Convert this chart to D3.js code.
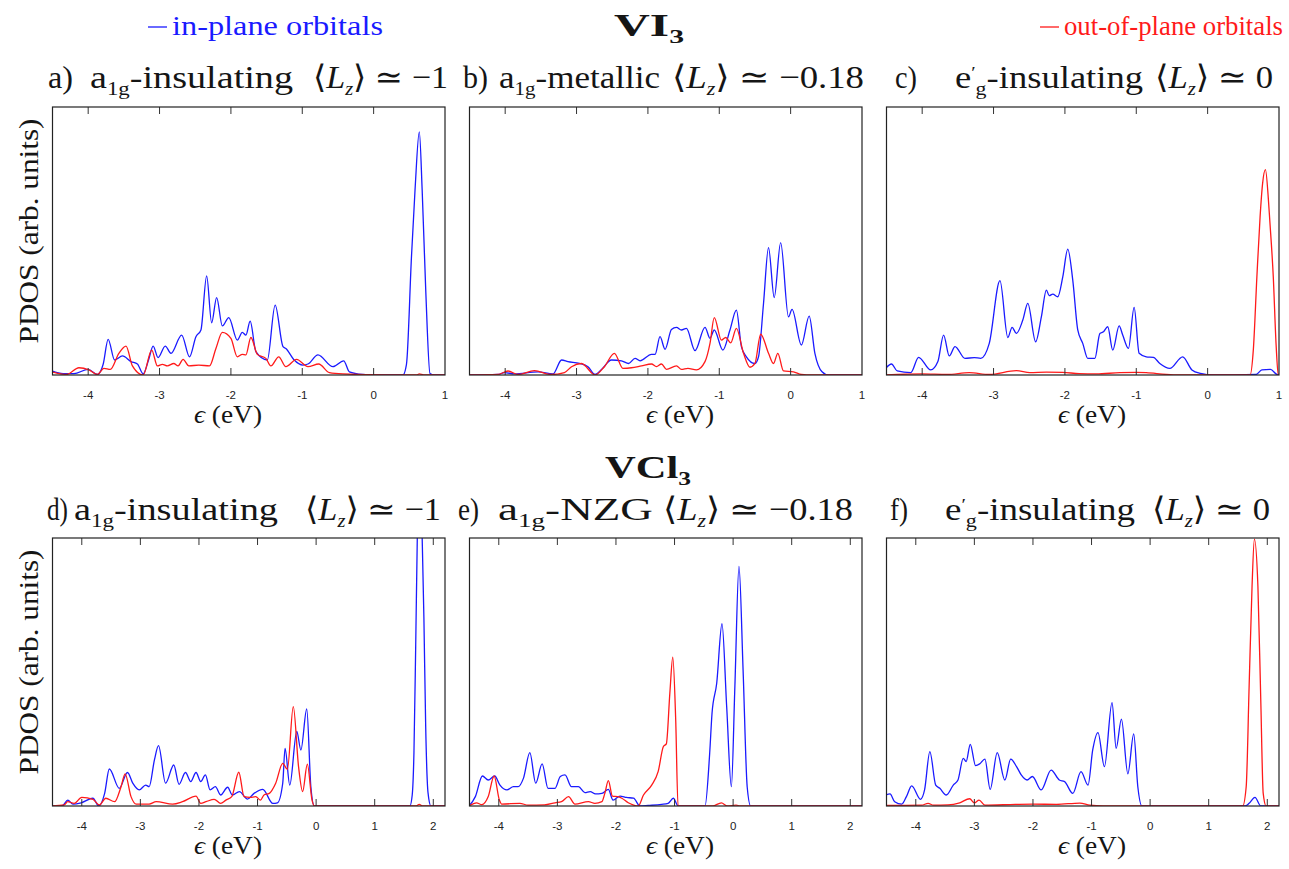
<!DOCTYPE html>
<html><head><meta charset="utf-8">
<script src="https://cdn.jsdelivr.net/npm/d3@7"></script>
<style>body{margin:0;background:#fff}svg{display:block}</style>
</head><body>
<svg id="chart" width="1289" height="869"></svg>
<script>
// Projected density of states, [energy (eV), PDOS (arb. units)]
const aInPlane = [[-4.51,0.015],[-4.35,0.005],[-4.2,0.005],[-4.0,0.021],[-3.87,0.002],[-3.79,0.04],[-3.72,0.133],[-3.63,0.056],[-3.52,0.071],[-3.40,0.05],[-3.31,0.041],[-3.23,0.004],[-3.15,0.06],[-3.09,0.108],[-3.02,0.065],[-2.92,0.108],[-2.84,0.081],[-2.69,0.149],[-2.58,0.068],[-2.49,0.143],[-2.42,0.168],[-2.34,0.370],[-2.27,0.195],[-2.20,0.289],[-2.12,0.183],[-2.03,0.214],[-1.91,0.130],[-1.84,0.159],[-1.79,0.149],[-1.73,0.201],[-1.65,0.087],[-1.49,0.056],[-1.38,0.261],[-1.27,0.106],[-1.23,0.099],[-1.12,0.058],[-0.99,0.037],[-0.92,0.041],[-0.78,0.075],[-0.57,0.031],[-0.42,0.053],[-0.34,0.012],[-0.15,0.002],[0.0,0.0],[0.41,0.0],[0.46,0.04],[0.53,0.44],[0.58,0.69],[0.64,0.907],[0.68,0.69],[0.73,0.317],[0.79,0.005],[0.85,0],[1.0,0]];
const aOutPlane = [[-4.51,0.012],[-4.3,0.002],[-4.13,0.027],[-3.99,0.019],[-3.87,0.002],[-3.78,0.025],[-3.69,0.021],[-3.57,0.081],[-3.47,0.108],[-3.38,0.034],[-3.23,0.0],[-3.11,0.093],[-3.03,0.034],[-2.96,0.040],[-2.89,0.034],[-2.80,0.043],[-2.74,0.034],[-2.67,0.058],[-2.59,0.034],[-2.45,0.037],[-2.30,0.034],[-2.21,0.099],[-2.12,0.159],[-2.00,0.137],[-1.91,0.068],[-1.84,0.077],[-1.79,0.075],[-1.72,0.140],[-1.63,0.077],[-1.51,0.062],[-1.44,0.034],[-1.33,0.068],[-1.23,0.031],[-1.08,0.058],[-0.92,0.031],[-0.77,0.041],[-0.62,0.009],[-0.43,0.004],[0.2,0],[0.6,0],[0.64,0.004],[0.7,0],[1.0,0]];

const bInPlane = [[-4.51,0],[-4.1,0.002],[-4.01,0.009],[-3.87,0.004],[-3.54,0.012],[-3.33,0.004],[-3.21,0.056],[-3.12,0.050],[-2.96,0.043],[-2.84,0.031],[-2.74,0.002],[-2.65,0.021],[-2.51,0.056],[-2.37,0.053],[-2.27,0.043],[-2.18,0.062],[-2.11,0.053],[-1.95,0.077],[-1.90,0.077],[-1.83,0.143],[-1.76,0.096],[-1.67,0.170],[-1.60,0.178],[-1.53,0.168],[-1.46,0.174],[-1.34,0.091],[-1.20,0.178],[-1.13,0.137],[-1.07,0.168],[-0.95,0.093],[-0.85,0.168],[-0.76,0.242],[-0.69,0.106],[-0.62,0.068],[-0.50,0.043],[-0.45,0.068],[-0.38,0.267],[-0.31,0.475],[-0.23,0.289],[-0.14,0.494],[-0.03,0.217],[0.02,0.245],[0.15,0.112],[0.26,0.220],[0.34,0.081],[0.44,0.012],[0.53,0],[1.0,0]];
const bOutPlane = [[-4.51,0],[-4.1,0.002],[-3.96,0.015],[-3.82,0.002],[-3.59,0.016],[-3.36,0.002],[-3.17,0.009],[-3.07,0.031],[-2.93,0.043],[-2.74,0],[-2.61,0.031],[-2.47,0.081],[-2.35,0.025],[-2.23,0.027],[-2.09,0.034],[-1.95,0.041],[-1.88,0.031],[-1.81,0.041],[-1.74,0.021],[-1.60,0.034],[-1.53,0.021],[-1.44,0.025],[-1.32,0.019],[-1.20,0.050],[-1.13,0.118],[-1.07,0.214],[-0.97,0.130],[-0.91,0.140],[-0.84,0.120],[-0.76,0.174],[-0.66,0.081],[-0.57,0.029],[-0.50,0.043],[-0.42,0.152],[-0.31,0.081],[-0.24,0.043],[-0.18,0.081],[-0.10,0.015],[0.04,0.012],[0.15,0.002],[0.3,0],[1.0,0]];

const cInPlane = [[-4.51,0.025],[-4.43,0.041],[-4.35,0.015],[-4.16,0.009],[-4.05,0.066],[-3.88,0.019],[-3.78,0.050],[-3.70,0.149],[-3.62,0.071],[-3.54,0.106],[-3.40,0.062],[-3.27,0.065],[-3.18,0.062],[-3.06,0.118],[-2.91,0.352],[-2.80,0.140],[-2.74,0.178],[-2.68,0.155],[-2.59,0.205],[-2.52,0.267],[-2.41,0.124],[-2.33,0.217],[-2.26,0.317],[-2.22,0.296],[-2.17,0.302],[-2.10,0.292],[-2.03,0.366],[-1.96,0.470],[-1.89,0.354],[-1.82,0.168],[-1.75,0.118],[-1.68,0.062],[-1.58,0.062],[-1.51,0.155],[-1.46,0.161],[-1.40,0.180],[-1.33,0.093],[-1.24,0.183],[-1.19,0.149],[-1.11,0.099],[-1.03,0.252],[-0.96,0.081],[-0.86,0.068],[-0.76,0.066],[-0.67,0.043],[-0.53,0.025],[-0.35,0.068],[-0.22,0.019],[-0.10,0.006],[0.08,0],[0.68,0.002],[0.76,0.019],[0.88,0.021],[0.97,0.002],[1.0,0]];
const cOutPlane = [[-4.51,0],[-4.0,0.004],[-3.65,0.002],[-3.34,0.009],[-3.06,0.002],[-2.68,0.016],[-2.49,0.009],[-2.26,0.011],[-2.03,0.010],[-1.80,0.005],[-1.56,0.004],[-1.23,0.009],[-1.00,0.010],[-0.86,0.009],[-0.58,0.002],[-0.4,0],[0.595,0],[0.64,0.093],[0.69,0.366],[0.735,0.59],[0.77,0.714],[0.81,0.766],[0.85,0.66],[0.87,0.58],[0.92,0.366],[0.96,0.11],[0.99,0],[1.0,0]];

const dInPlane = [[-4.51,0],[-4.33,0.001],[-4.24,0.022],[-4.15,0.007],[-4.01,0.012],[-3.81,0.029],[-3.71,0],[-3.61,0.047],[-3.53,0.138],[-3.36,0.066],[-3.22,0.125],[-3.13,0.085],[-3.02,0.060],[-2.91,0.078],[-2.85,0.072],[-2.76,0.172],[-2.69,0.225],[-2.57,0.085],[-2.43,0.153],[-2.34,0.081],[-2.23,0.125],[-2.14,0.091],[-2.05,0.125],[-1.97,0.091],[-1.89,0.116],[-1.81,0.060],[-1.72,0.072],[-1.63,0.041],[-1.51,0.070],[-1.43,0.041],[-1.31,0.054],[-1.17,0.026],[-1.06,0.047],[-0.91,0.062],[-0.74,0.010],[-0.66,0.012],[-0.57,0.085],[-0.53,0.215],[-0.45,0.078],[-0.33,0.278],[-0.26,0.209],[-0.16,0.362],[-0.09,0.072],[-0.03,0],[1.60,0],[1.64,0.04],[1.67,0.2],[1.70,0.6],[1.727,1.0],[1.77,1.4],[1.80,1.1],[1.84,0.7],[1.87,0.3],[1.91,0.05],[1.96,0],[2.2,0]];
const dOutPlane = [[-4.51,0],[-4.3,0.004],[-4.24,0.016],[-4.13,0.010],[-4.00,0.032],[-3.81,0.025],[-3.70,0.004],[-3.59,0.029],[-3.44,0.016],[-3.33,0.072],[-3.26,0.120],[-3.16,0.035],[-3.07,0.007],[-2.85,0.007],[-2.73,0.016],[-2.45,0.007],[-2.28,0.016],[-2.05,0.037],[-1.97,0.010],[-1.88,0.016],[-1.74,0.025],[-1.63,0.010],[-1.54,0.022],[-1.44,0.035],[-1.32,0.126],[-1.23,0.035],[-1.13,0.032],[-1.03,0.035],[-0.95,0.022],[-0.89,0.041],[-0.80,0.047],[-0.69,0.085],[-0.57,0.159],[-0.49,0.137],[-0.39,0.371],[-0.30,0.147],[-0.23,0.054],[-0.15,0.156],[-0.07,0.022],[-0.03,0],[1.70,0],[1.76,0.006],[1.82,0],[2.2,0]];

const eInPlane = [[-4.51,0],[-4.40,0.035],[-4.28,0.112],[-4.18,0.097],[-4.07,0.112],[-3.98,0.078],[-3.86,0.060],[-3.75,0.072],[-3.67,0.072],[-3.58,0.103],[-3.47,0.199],[-3.37,0.085],[-3.26,0.157],[-3.16,0.066],[-3.04,0.066],[-2.95,0.110],[-2.87,0.116],[-2.76,0.072],[-2.64,0.072],[-2.53,0.050],[-2.44,0.054],[-2.35,0.045],[-2.24,0.047],[-2.13,0.062],[-2.05,0.022],[-1.93,0.037],[-1.82,0.032],[-1.70,0.029],[-1.59,0],[-1.45,0.002],[-1.22,0.006],[-1.11,0.010],[-1.02,0.029],[-0.94,0],[-0.48,0],[-0.40,0.197],[-0.36,0.346],[-0.28,0.458],[-0.19,0.680],[-0.11,0.371],[-0.03,0.072],[0.03,0.446],[0.10,0.894],[0.17,0.508],[0.24,0.072],[0.30,0],[2.2,0]];
const eOutPlane = [[-4.51,0],[-4.38,0.012],[-4.29,0.005],[-4.18,0.035],[-4.08,0.112],[-3.99,0.022],[-3.95,0.007],[-3.64,0.010],[-3.50,0.003],[-3.22,0.004],[-3.04,0.012],[-2.93,0.016],[-2.81,0.035],[-2.70,0.007],[-2.47,0.016],[-2.36,0.010],[-2.24,0.016],[-2.19,0.047],[-2.13,0.095],[-2.06,0.037],[-1.97,0.035],[-1.90,0.029],[-1.79,0.012],[-1.62,0],[-1.53,0.041],[-1.39,0.078],[-1.28,0.128],[-1.19,0.222],[-1.14,0.232],[-1.08,0.421],[-1.03,0.555],[-0.98,0.321],[-0.94,0],[-0.35,0],[-0.20,0.012],[-0.10,0],[0.05,0.003],[0.12,0],[2.2,0]];

const fInPlane = [[-4.51,0.041],[-4.44,0.045],[-4.36,0.016],[-4.24,0.007],[-4.16,0.035],[-4.07,0.075],[-3.92,0.025],[-3.85,0.060],[-3.76,0.203],[-3.66,0.078],[-3.59,0.066],[-3.48,0.041],[-3.36,0.078],[-3.28,0.097],[-3.19,0.178],[-3.14,0.166],[-3.07,0.230],[-2.98,0.151],[-2.91,0.157],[-2.82,0.175],[-2.73,0.062],[-2.61,0.199],[-2.48,0.097],[-2.38,0.175],[-2.28,0.147],[-2.20,0.116],[-2.10,0.097],[-2.01,0.110],[-1.86,0.060],[-1.69,0.134],[-1.55,0.097],[-1.46,0.091],[-1.32,0.047],[-1.18,0.128],[-1.06,0.078],[-0.98,0.209],[-0.89,0.274],[-0.78,0.147],[-0.65,0.386],[-0.58,0.215],[-0.49,0.324],[-0.38,0.120],[-0.28,0.269],[-0.21,0.072],[-0.14,0],[1.62,0],[1.69,0.010],[1.79,0.032],[1.89,0],[2.2,0]];
const fOutPlane = [[-4.51,0.002],[-3.9,0.003],[-3.79,0.010],[-3.70,0.003],[-3.45,0.004],[-3.25,0.012],[-3.08,0.027],[-3.00,0.012],[-2.92,0.022],[-2.82,0.003],[-2.3,0.006],[-2.0,0.007],[-1.6,0.006],[-1.20,0.011],[-1.03,0.003],[-0.8,0],[1.58,0],[1.64,0.072],[1.69,0.446],[1.74,0.82],[1.78,0.996],[1.84,0.82],[1.89,0.384],[1.93,0.048],[1.98,0],[2.2,0]];

// Axis ticks per row
const vi3Ticks = [-4, -3, -2, -1, 0, 1];
const vi3TickLabels = ["-4", "-3", "-2", "-1", "0", "1"];
const vcl3Ticks = [-4, -3, -2, -1, 0, 1, 2];
const vcl3TickLabels = ["-4", "-3", "-2", "-1", "0", "1", "2"];
const vi3Domain = [-4.5, 1];
const vcl3Domain = [-4.5, 2.2];

const BLUE = "#1a1aff", RED = "#ff1a1a";
const SERIF = "'Liberation Serif','DejaVu Serif',serif";
const SANS = "'Liberation Sans',Arial,sans-serif";

const svg = d3.select("#chart");

// rich text helper: parts with optional sub/sup/italic; width stretches glyphs
function rich(x, y, size, parts, opt) {
  opt = opt || {};
  const t = svg.append("text").attr("x", x).attr("y", y).attr("font-family", SERIF)
    .attr("font-size", size).attr("fill", opt.fill || "#151515")
    .attr("text-anchor", opt.anchor || "start");
  if (opt.transform) t.attr("transform", opt.transform);
  let cur = 0;
  parts.forEach(p => {
    const target = p.sub ? size * 0.22 : p.sup ? -size * 0.3 : 0;
    const ts = t.append("tspan").attr("dy", target - cur).text(p.t);
    cur = target;
    if (p.sub || p.sup) ts.attr("font-size", size * (p.small || 0.6));
    if (p.it) ts.attr("font-style", "italic");
    if (p.bold) ts.attr("font-weight", "bold");
    if (p.dx) ts.attr("dx", p.dx);
  });
  if (opt.width) t.attr("textLength", opt.width).attr("lengthAdjust", "spacingAndGlyphs");
  return t;
}

// panel frames
const colX = [52.5, 469.5, 886.5];
const rowY = [107, 538];
const PW = 392.5, PH = 268;

const panels = [
  {key:"a", row:0, col:0, inP:aInPlane, outP:aOutPlane},
  {key:"b", row:0, col:1, inP:bInPlane, outP:bOutPlane},
  {key:"c", row:0, col:2, inP:cInPlane, outP:cOutPlane},
  {key:"d", row:1, col:0, inP:dInPlane, outP:dOutPlane},
  {key:"e", row:1, col:1, inP:eInPlane, outP:eOutPlane},
  {key:"f", row:1, col:2, inP:fInPlane, outP:fOutPlane}
];
const xLabelCenters = [228, 680, 1092];

panels.forEach(p => {
  const x0 = colX[p.col], y0 = rowY[p.row];
  const domain = p.row === 0 ? vi3Domain : vcl3Domain;
  const ticks = p.row === 0 ? vi3Ticks : vcl3Ticks;
  const labels = p.row === 0 ? vi3TickLabels : vcl3TickLabels;
  const x = d3.scaleLinear().domain(domain).range([x0, x0 + PW]);
  const y = d3.scaleLinear().domain([0, 1]).range([y0 + PH, y0]);
  const g = svg.append("g");

  g.append("clipPath").attr("id", "clip-" + p.key)
    .append("rect").attr("x", x0).attr("y", y0).attr("width", PW).attr("height", PH);

  const line = d3.line().x(d => x(d[0])).y(d => y(d[1])).curve(d3.curveMonotoneX);
  const plot = g.append("g").attr("clip-path", `url(#clip-${p.key})`);
  plot.append("path").datum(p.inP).attr("d", line)
    .attr("fill", "none").attr("stroke", BLUE).attr("stroke-width", 1.3);
  plot.append("path").datum(p.outP).attr("d", line)
    .attr("fill", "none").attr("stroke", RED).attr("stroke-width", 1.3);

  // inward ticks on top and bottom edges
  ticks.forEach((t, i) => {
    const tx = x(t);
    if (tx > x0 + 1 && tx < x0 + PW - 1) {
      g.append("line").attr("x1", tx).attr("x2", tx).attr("y1", y0).attr("y2", y0 + 7)
        .attr("stroke", "#333").attr("stroke-width", 1);
      g.append("line").attr("x1", tx).attr("x2", tx).attr("y1", y0 + PH).attr("y2", y0 + PH - 7)
        .attr("stroke", "#333").attr("stroke-width", 1);
    }
    g.append("text").attr("x", tx).attr("y", y0 + PH + 24)
      .attr("text-anchor", "middle").attr("font-family", SANS).attr("font-size", 11.5)
      .attr("fill", "#222").text(labels[i]);
  });

  g.append("rect").attr("x", x0).attr("y", y0).attr("width", PW).attr("height", PH)
    .attr("fill", "none").attr("stroke", "#222").attr("stroke-width", 1.2);

  // energy axis label
  rich(xLabelCenters[p.col] - 34, y0 + PH + 48, 26, [{t:"ϵ", it:true}, {t:" (eV)"}], {width: 68});
});

// y-axis labels
[rowY[0], rowY[1]].forEach(y0 => {
  rich(0, 0, 27, [{t:"PDOS (arb. units)"}],
    {anchor: "middle", width: 225, transform: `translate(38,${y0 + PH / 2 - 10}) rotate(-90)`});
});

// compound headings
rich(614, 36, 31, [{t:"VI", bold:true}, {t:"3", sub:true, bold:true, small:0.6}], {width: 70});
rich(605, 478, 31, [{t:"VCl", bold:true}, {t:"3", sub:true, bold:true, small:0.6}], {width: 86});

// legend
svg.append("line").attr("x1", 148).attr("x2", 167).attr("y1", 27).attr("y2", 27).attr("stroke", BLUE).attr("stroke-width", 1.3);
rich(172, 35, 27, [{t:"in-plane orbitals"}], {fill: BLUE, width: 211});
svg.append("line").attr("x1", 1040).attr("x2", 1059).attr("y1", 27).attr("y2", 27).attr("stroke", RED).attr("stroke-width", 1.3);
rich(1064, 35, 27, [{t:"out-of-plane orbitals"}], {fill: RED, width: 219});

// panel headings
const Lz = v => [{t:"⟨"}, {t:"L", it:true}, {t:"z", it:true, sub:true}, {t:"⟩ ≃ " + v}];
const eg = [{t:"e"}, {t:"′", sup:true, small:0.55}, {t:"g", sub:true}, {t:"-insulating"}];
const TS = 32;
const headRow = [88, 520];
const headings = [
  // [row, label, x, width, orbital parts, x, width, Lz value, x, width]
  [0, "a)", 48, 25, [{t:"a"}, {t:"1g", sub:true}, {t:"-insulating"}], 90, 203, "−1", 313, 135],
  [0, "b)", 463, 25, [{t:"a"}, {t:"1g", sub:true}, {t:"-metallic"}], 499, 161, "−0.18", 672, 192],
  [0, "c)", 895, 22, eg, 955, 188, "0", 1155, 118],
  [1, "d)", 47, 21, [{t:"a"}, {t:"1g", sub:true}, {t:"-insulating"}], 74, 204, "−1", 305, 136],
  [1, "e)", 458, 21, [{t:"a"}, {t:"1g", sub:true}, {t:"-NZG"}], 498, 155, "−0.18", 663, 190],
  [1, "f)", 890, 18, eg, 945, 190, "0", 1152, 118]
];
headings.forEach(h => {
  const yb = headRow[h[0]];
  rich(h[2], yb, TS, [{t:h[1]}], {width: h[3]});
  rich(h[5], yb, TS, h[4], {width: h[6]});
  rich(h[8], yb, TS, Lz(h[7]), {width: h[9]});
});
</script>
</body></html>
